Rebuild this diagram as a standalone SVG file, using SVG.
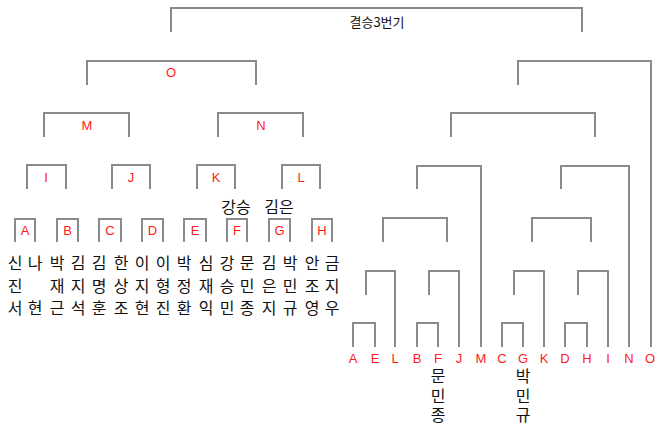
<svg xmlns="http://www.w3.org/2000/svg" width="660" height="434" viewBox="0 0 660 434">
<style>
.ln{fill:none;stroke:#8a8a8a;stroke-width:2}
.lb{font-family:"Liberation Sans",Arial,sans-serif;font-size:13px;fill:#ff1a1a;text-anchor:middle}
.kr{font-family:"Noto Sans CJK KR","Noto Sans",sans-serif;font-size:16px;fill:#111;text-anchor:middle}
.vt{font-family:"Noto Sans CJK KR","Noto Sans",sans-serif;font-size:16px;fill:#111;writing-mode:vertical-rl;letter-spacing:3.5px}
.tt{font-family:"Noto Sans CJK KR","Noto Sans",sans-serif;font-size:13px;fill:#111;text-anchor:middle}
</style>
<rect width="660" height="434" fill="#fff"/>
<g id="connectors" class="ln">
<path d="M171,32V8H582V32"/>
<path d="M87,85V61H256V85"/>
<path d="M44,137V113H129V137"/>
<path d="M218,137V113H303V137"/>
<path d="M27,189V165H66V189"/>
<path d="M112,189V165H150V189"/>
<path d="M197,189V165H235V189"/>
<path d="M282,189V165H320V189"/>
<path d="M15,242V219H35V242"/>
<path d="M57,242V219H78V242"/>
<path d="M99,242V219H121V242"/>
<path d="M142,242V219H163V242"/>
<path d="M184,242V219H206V242"/>
<path d="M227,242V219H247V242"/>
<path d="M269,242V219H290V242"/>
<path d="M312,242V219H332V242"/>
<path d="M518,85V61H651V347"/>
<path d="M451,137V113H595V137"/>
<path d="M417,189V166H481V347"/>
<path d="M561,189V166H629V347"/>
<path d="M383,242V218H447V242"/>
<path d="M532,242V218H591V242"/>
<path d="M366,295V271H395V347"/>
<path d="M429,295V271H459V347"/>
<path d="M514,295V271H544V347"/>
<path d="M578,295V271H608V347"/>
<path d="M353,347V323H375V347"/>
<path d="M417,347V323H438V347"/>
<path d="M502,347V323H523V347"/>
<path d="M565,347V323H587V347"/>
</g>
<g id="final"><text class="tt" x="377" y="27">결승3번기</text></g>
<g id="node-O"><text class="lb" x="171" y="77">O</text></g>
<g id="node-M"><text class="lb" x="87" y="130">M</text></g>
<g id="node-N"><text class="lb" x="261" y="130">N</text></g>
<g id="node-I"><text class="lb" x="46" y="182">I</text></g>
<g id="node-J"><text class="lb" x="131" y="182">J</text></g>
<g id="node-K"><text class="lb" x="216" y="182">K</text></g>
<g id="node-L"><text class="lb" x="301" y="182">L</text></g>
<g id="node-A"><text class="lb" x="25" y="235">A</text></g>
<g id="node-B"><text class="lb" x="67.500" y="235">B</text></g>
<g id="node-C"><text class="lb" x="110" y="235">C</text></g>
<g id="node-D"><text class="lb" x="152.500" y="235">D</text></g>
<g id="node-E"><text class="lb" x="195" y="235">E</text></g>
<g id="node-F"><text class="lb" x="237" y="235">F</text></g>
<g id="node-G"><text class="lb" x="279.500" y="235">G</text></g>
<g id="node-H"><text class="lb" x="322" y="235">H</text></g>
<g id="winners-KL">
<text class="kr" x="236" y="213">강승</text>
<text class="kr" x="279" y="213">김은</text>
</g>
<g id="players">
<text class="kr"><tspan x="15" y="269">신</tspan><tspan x="15" y="292">진</tspan><tspan x="15" y="314">서</tspan></text>
<text class="kr"><tspan x="35" y="269">나</tspan><tspan x="35" y="314">현</tspan></text>
<text class="kr"><tspan x="57" y="269">박</tspan><tspan x="57" y="292">재</tspan><tspan x="57" y="314">근</tspan></text>
<text class="kr"><tspan x="78" y="269">김</tspan><tspan x="78" y="292">지</tspan><tspan x="78" y="314">석</tspan></text>
<text class="kr"><tspan x="99" y="269">김</tspan><tspan x="99" y="292">명</tspan><tspan x="99" y="314">훈</tspan></text>
<text class="kr"><tspan x="121" y="269">한</tspan><tspan x="121" y="292">상</tspan><tspan x="121" y="314">조</tspan></text>
<text class="kr"><tspan x="142" y="269">이</tspan><tspan x="142" y="292">지</tspan><tspan x="142" y="314">현</tspan></text>
<text class="kr"><tspan x="163" y="269">이</tspan><tspan x="163" y="292">형</tspan><tspan x="163" y="314">진</tspan></text>
<text class="kr"><tspan x="184" y="269">박</tspan><tspan x="184" y="292">정</tspan><tspan x="184" y="314">환</tspan></text>
<text class="kr"><tspan x="206" y="269">심</tspan><tspan x="206" y="292">재</tspan><tspan x="206" y="314">익</tspan></text>
<text class="kr"><tspan x="227" y="269">강</tspan><tspan x="227" y="292">승</tspan><tspan x="227" y="314">민</tspan></text>
<text class="kr"><tspan x="247" y="269">문</tspan><tspan x="247" y="292">민</tspan><tspan x="247" y="314">종</tspan></text>
<text class="kr"><tspan x="269" y="269">김</tspan><tspan x="269" y="292">은</tspan><tspan x="269" y="314">지</tspan></text>
<text class="kr"><tspan x="290" y="269">박</tspan><tspan x="290" y="292">민</tspan><tspan x="290" y="314">규</tspan></text>
<text class="kr"><tspan x="312" y="269">안</tspan><tspan x="312" y="292">조</tspan><tspan x="312" y="314">영</tspan></text>
<text class="kr"><tspan x="332" y="269">금</tspan><tspan x="332" y="292">지</tspan><tspan x="332" y="314">우</tspan></text>
</g>
<g id="loser-bracket">
<text class="lb" x="353" y="363">A</text>
<text class="lb" x="375" y="363">E</text>
<text class="lb" x="395" y="363">L</text>
<text class="lb" x="417" y="363">B</text>
<text class="lb" x="438" y="363">F</text>
<text class="lb" x="459" y="363">J</text>
<text class="lb" x="481" y="363">M</text>
<text class="lb" x="502" y="363">C</text>
<text class="lb" x="523" y="363">G</text>
<text class="lb" x="544" y="363">K</text>
<text class="lb" x="565" y="363">D</text>
<text class="lb" x="587" y="363">H</text>
<text class="lb" x="608" y="363">I</text>
<text class="lb" x="629" y="363">N</text>
<text class="lb" x="650" y="363">O</text>
</g>
<g id="winners-FG">
<text class="vt" x="438" y="368">문민종</text>
<text class="vt" x="523" y="368">박민규</text>
</g>
</svg>
